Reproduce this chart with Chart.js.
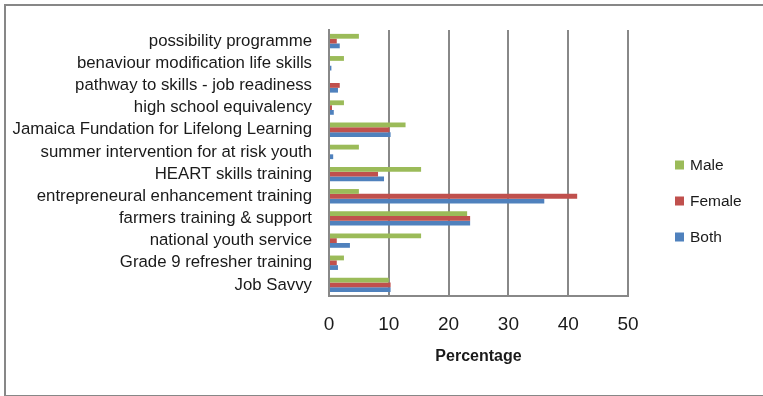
<!DOCTYPE html>
<html>
<head>
<meta charset="utf-8">
<script src="https://cdn.jsdelivr.net/npm/chart.js@4/dist/chart.umd.min.js"></script>
<style>
  body { margin: 0; overflow: hidden; background: #fff; }
  #wrap { position: relative; width: 763px; height: 396px; overflow: hidden; }
  #myChart { position: absolute; left: 0; top: 0; }
  #frame { position: absolute; left: 4px; top: 4px; width: 800px; height: 389px;
           border: 2px solid #878787; pointer-events: none; }
</style>
</head>
<body>
<div id="wrap">
  <canvas id="myChart" width="763" height="396"></canvas>
  <div id="frame"></div>
</div>
<script>
// programmes, listed top to bottom
var programmes = [
    "possibility programme",
    "benaviour modification life skills",
    "pathway to skills - job readiness",
    "high school equivalency",
    "Jamaica Fundation for Lifelong Learning",
    "summer intervention for at risk youth",
    "HEART skills training",
    "entrepreneural enhancement training",
    "farmers training & support",
    "national youth service",
    "Grade 9 refresher training",
    "Job Savvy"
];

// percentages per group
var male   = [5.0, 2.5, 0,   2.5, 12.8, 5.0, 15.4, 5.0,  23.1, 15.4, 2.5, 10.0];
var female = [1.3, 0,   1.8, 0.5, 10.1, 0,   8.2,  41.5, 23.6, 1.3,  1.3, 10.3];
var both   = [1.8, 0.4, 1.5, 0.8, 10.3, 0.7, 9.2,  36.0, 23.6, 3.5,  1.5, 10.3];

var xTicks = [0, 10, 20, 30, 40, 50];

var textColor = '#1a1a1a';
var gridColor = '#888888';

// legend drawn to the right of the plot
var sideLegend = {
    id: 'sideLegend',
    afterDraw: function(chart) {
        var c = chart.ctx;
        var x = chart.chartArea.right + 47;
        c.save();
        c.font = '15.5px "Liberation Sans", Arial, sans-serif';
        c.textBaseline = 'middle';
        chart.data.datasets.forEach(function(ds, i) {
            var y = 165 + i * 36;
            c.fillStyle = ds.backgroundColor;
            c.fillRect(x, y - 4.5, 9, 9);
            c.fillStyle = textColor;
            c.fillText(ds.label, x + 15, y + 1);
        });
        c.restore();
    }
};

var ctx = document.getElementById("myChart").getContext('2d');
var chart = new Chart(ctx, {
    type: 'bar',
    data: {
        labels: programmes,
        datasets: [
            { label: "Male",   data: male,   backgroundColor: '#9BBB59' },
            { label: "Female", data: female, backgroundColor: '#C0504D' },
            { label: "Both",   data: both,   backgroundColor: '#4F81BD' }
        ]
    },
    options: {
        indexAxis: 'y',
        responsive: false,
        animation: false,
        layout: { padding: { top: 30, right: 135, left: 0, bottom: 0 } },
        datasets: {
            bar: { categoryPercentage: 0.65, barPercentage: 1.0, borderWidth: 0 }
        },
        plugins: {
            legend: { display: false },
            tooltip: { enabled: false }
        },
        scales: {
            x: {
                min: 0,
                max: 50,
                afterBuildTicks: function(scale) {
                    scale.ticks = xTicks.map(function(v) { return { value: v }; });
                },
                afterFit: function(scale) { scale.height = 100; },
                grid: { color: gridColor, lineWidth: 2, drawTicks: false },
                border: { color: gridColor, width: 2 },
                ticks: {
                    padding: 17,
                    color: textColor,
                    font: { family: '"Liberation Sans", Arial, sans-serif', size: 19 }
                },
                title: {
                    display: true,
                    text: 'Percentage',
                    color: textColor,
                    padding: { top: 0, bottom: 30 },
                    font: { family: '"Liberation Sans", Arial, sans-serif', size: 16, weight: 'bold' }
                }
            },
            y: {
                afterFit: function(scale) { scale.width = 329; },
                grid: { display: false, drawTicks: false },
                border: { color: gridColor, width: 2 },
                ticks: {
                    padding: 17,
                    color: textColor,
                    autoSkip: false,
                    font: { family: '"Liberation Sans", Arial, sans-serif', size: 16.8 }
                }
            }
        }
    },
    plugins: [sideLegend]
});
</script>
</body>
</html>
